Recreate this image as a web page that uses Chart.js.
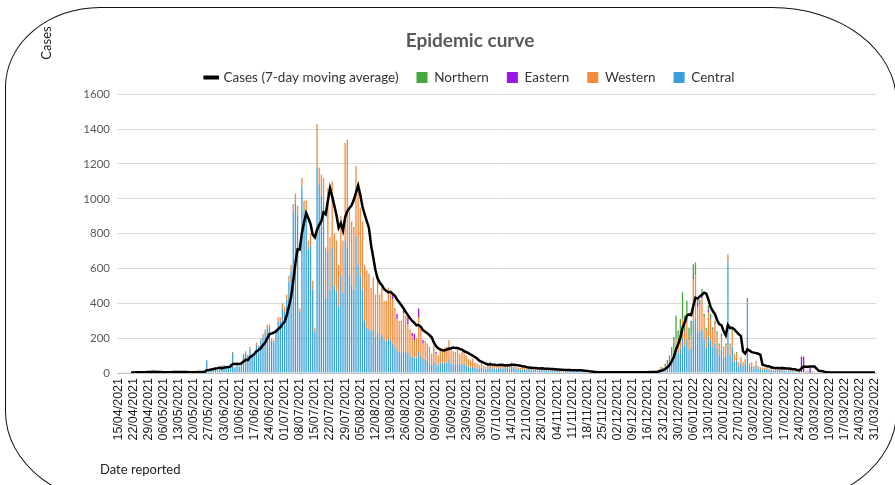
<!DOCTYPE html>
<html>
<head>
<meta charset="utf-8">
<script src="https://cdn.jsdelivr.net/npm/chart.js@4.4.1/dist/chart.umd.min.js"></script>
<style>
  html, body { margin: 0; padding: 0; background: #fff; overflow: hidden; }
  #wrap { position: relative; width: 895px; height: 485px; overflow: hidden; }
  #wrap canvas { position: absolute; left: 0; top: 0; }
  #frame { position: absolute; left: 5px; top: 7px; width: 892px; height: 500px; box-sizing: border-box;
           border: 1.5px solid #111; border-radius: 95px 125px 125px 125px / 80px 95px 95px 95px; pointer-events: none; }
</style>
</head>
<body>
<div id="wrap">
  <canvas id="myChart" width="895" height="485"></canvas>
  <div id="frame"></div>
</div>
<script>
// daily cases by region, 15/04/2021 .. 31/03/2022 (one row ~ one week)
const central = [
  1,3,2,4,2,3,5,
  4,6,3,5,7,4,
  8,11,6,5,7,4,3,
  4,3,5,6,8,7,9,
  6,4,5,3,4,5,6,
  5,7,4,6,5,8,9,
  72,15,19,24,28,21,26,
  42,45,29,33,52,115,32,
  43,38,56,104,118,99,
  140,94,103,162,148,186,208,
  232,255,262,186,176,234,296,
  298,372,352,420,525,582,920,
  975,905,350,1070,930,935,710,
  730,480,235,1180,1080,1020,980,
  430,700,480,720,500,470,380,
  560,460,760,720,560,500,480,
  790,620,560,480,300,260,250,
  240,250,210,230,200,220,190,
  180,200,190,170,150,130,
  120,115,130,120,115,95,90,
  90,85,120,100,80,75,70,
  60,45,65,50,40,60,55,
  60,60,80,55,50,50,55,
  45,50,55,40,35,30,35,
  30,25,25,30,20,20,25,
  35,25,25,20,30,25,25,
  28,35,25,40,28,22,
  20,18,22,19,16,25,17,
  14,18,15,13,20,17,14,
  13,12,14,11,12,14,10,
  9,10,10,12,8,11,10,
  10,9,7,5,3,2,3,
  2,4,2,3,4,2,
  3,2,4,3,2,4,3,
  4,3,2,4,3,4,2,
  3,4,4,2,5,4,4,
  3,5,6,12,18,16,28,
  34,45,68,95,140,110,140,
  200,160,190,130,145,300,310,
  230,240,250,195,145,210,190,
  150,170,140,100,130,90,100,
  640,100,150,65,70,35,55,
  40,50,400,35,38,25,45,
  25,22,18,18,25,15,
  18,12,15,18,12,15,15,
  9,13,11,7,9,6,6,
  3,4,6,9,2,6,5,
  4,3,3,2,3,2,1,
  2,3,1,2,4,2,1,
  2,1,3,2,1,2,1,
  2,
  2,3,1,2,2,3
];
const western = [
  0,0,0,0,0,0,0,
  0,0,0,0,0,0,
  0,0,0,0,0,0,0,
  0,0,0,0,0,0,0,
  0,0,0,0,0,0,0,
  0,0,0,0,0,0,0,
  3,0,1,1,2,1,2,
  2,3,1,2,3,5,2,
  2,2,4,6,7,6,
  10,6,7,13,12,14,17,
  18,20,18,14,14,16,24,
  22,28,28,30,35,38,50,
  55,55,20,50,60,55,50,
  70,50,25,250,100,120,140,
  290,360,300,380,300,290,240,
  340,300,560,620,370,370,360,
  400,420,390,390,320,330,320,
  250,300,240,300,250,270,225,
  235,290,280,255,225,180,
  180,185,215,210,165,155,120,
  100,115,200,160,90,110,100,
  90,65,95,60,60,80,75,
  85,90,110,85,75,70,80,
  65,70,75,60,45,40,50,
  30,30,20,30,20,15,25,
  30,20,15,15,20,20,15,
  17,20,15,20,17,13,
  12,10,13,11,9,13,10,
  8,10,9,7,10,9,7,
  7,6,8,6,7,7,6,
  5,6,5,6,4,6,5,
  6,5,3,3,2,1,1,
  1,1,0,1,2,1,
  1,1,1,1,0,2,1,
  1,1,1,2,1,1,1,
  1,2,1,1,2,1,2,
  1,2,2,4,8,7,12,
  15,20,30,40,60,50,65,
  110,75,100,60,75,240,250,
  150,156,180,127,99,140,120,
  95,110,85,60,80,50,60,
  35,60,90,40,45,22,30,
  22,27,3,17,20,13,22,
  13,11,10,10,13,8,
  10,7,8,10,7,8,10,
  5,8,6,4,5,3,3,
  1,1,3,5,0,3,2,
  2,2,1,1,1,1,1,
  1,1,1,1,1,1,1,
  1,1,1,1,1,1,1,
  1,
  1,1,1,0,1,1
];
const eastern = [
  0,0,0,0,0,0,0,
  0,0,0,0,0,0,
  0,0,0,0,0,0,0,
  0,0,0,0,0,0,0,
  0,0,0,0,0,0,0,
  0,0,0,0,0,0,0,
  0,0,0,0,0,0,0,
  0,0,0,0,0,0,0,
  0,0,0,0,0,0,
  0,0,0,0,0,0,0,
  0,0,0,0,0,0,0,
  0,0,0,0,0,0,0,
  0,0,0,0,0,0,0,
  0,0,0,0,0,0,0,
  0,0,0,0,0,0,0,
  0,0,0,0,0,0,0,
  0,0,0,0,0,0,0,
  0,0,0,0,0,0,0,
  0,0,0,25,0,30,
  0,0,15,0,40,0,20,
  35,0,50,0,20,0,0,
  0,0,0,10,0,0,0,
  0,0,0,0,0,0,0,
  0,0,0,0,0,0,0,
  0,0,0,0,0,0,0,
  0,0,0,0,0,0,0,
  0,0,0,0,0,0,
  0,0,0,0,0,0,0,
  0,0,0,0,0,0,0,
  0,0,0,0,0,0,0,
  0,0,0,0,0,0,0,
  0,0,0,0,0,0,0,
  0,0,0,0,0,0,
  0,0,0,0,0,0,0,
  0,0,0,0,0,0,0,
  0,0,0,0,0,0,0,
  0,0,0,0,0,0,0,
  0,0,0,0,0,0,0,
  3,3,5,2,4,5,4,
  25,4,30,3,2,12,4,
  3,5,2,0,5,0,0,
  0,0,0,0,0,0,0,
  0,0,2,0,0,0,0,
  0,0,0,0,0,0,
  0,0,0,0,0,17,0,
  0,0,0,0,0,0,0,
  90,89,0,0,28,0,0,
  0,0,0,0,0,0,0,
  0,0,0,0,0,0,0,
  0,0,0,0,0,0,0,
  0,
  0,0,0,0,0,0
];
const northern = [
  0,0,0,0,0,0,0,
  0,0,0,0,0,0,
  0,0,0,0,0,0,0,
  0,0,0,0,0,0,0,
  0,0,0,0,0,0,0,
  0,0,0,0,0,0,0,
  0,0,0,0,0,0,0,
  0,0,0,0,0,0,0,
  0,0,0,0,0,0,
  0,0,0,0,0,0,0,
  0,0,0,0,0,0,0,
  0,0,0,0,0,0,0,
  0,0,0,0,0,0,0,
  0,0,0,0,0,0,0,
  0,0,0,0,0,0,0,
  0,0,0,0,0,0,0,
  0,0,0,0,0,0,0,
  0,0,0,0,0,0,0,
  0,0,0,0,0,0,
  0,0,0,0,0,0,0,
  0,0,0,0,0,0,0,
  0,0,0,0,0,0,0,
  0,0,0,0,0,0,0,
  0,0,0,0,0,0,0,
  0,0,0,0,0,0,0,
  0,0,0,0,0,0,0,
  0,0,0,0,0,0,
  0,0,0,0,0,0,0,
  0,0,0,0,0,0,0,
  0,0,0,0,0,0,0,
  0,0,0,0,0,0,0,
  0,0,0,0,0,0,0,
  0,0,0,0,0,0,
  0,0,0,0,0,0,0,
  0,0,0,0,0,0,0,
  0,0,0,0,0,0,0,
  1,1,2,4,8,7,13,
  26,36,51,71,130,84,105,
  150,92,120,68,76,80,70,
  20,20,22,15,14,25,25,
  15,15,13,10,10,10,10,
  5,10,10,5,5,3,5,
  3,3,25,3,2,2,3,
  2,2,2,2,2,2,
  2,1,2,2,1,0,3,
  1,1,1,1,1,1,1,
  1,1,1,1,0,1,1,
  0,0,0,0,0,0,0,
  0,0,0,0,0,0,0,
  0,0,0,0,0,0,0,
  0,
  0,0,0,0,0,0
];

const tickLabels = [
  '15/04/2021','22/04/2021','29/04/2021','06/05/2021','13/05/2021','20/05/2021','27/05/2021',
  '03/06/2021','10/06/2021','17/06/2021','24/06/2021','01/07/2021','08/07/2021','15/07/2021',
  '22/07/2021','29/07/2021','05/08/2021','12/08/2021','19/08/2021','26/08/2021','02/09/2021',
  '09/09/2021','16/09/2021','23/09/2021','30/09/2021','07/10/2021','14/10/2021','21/10/2021',
  '28/10/2021','04/11/2021','11/11/2021','18/11/2021','25/11/2021','02/12/2021','09/12/2021',
  '16/12/2021','23/12/2021','30/12/2021','06/01/2022','13/01/2022','20/01/2022','27/01/2022',
  '03/02/2022','10/02/2022','17/02/2022','24/02/2022','03/03/2022','10/03/2022','17/03/2022',
  '24/03/2022','31/03/2022'
];

// one category per reported day
const days = [];
const d0 = new Date(2021, 3, 15);
for (let i = 0; i < central.length; i++) {
  const d = new Date(d0.getFullYear(), d0.getMonth(), d0.getDate() + i);
  days.push(String(d.getDate()).padStart(2, '0') + '/' + String(d.getMonth() + 1).padStart(2, '0') + '/' + d.getFullYear());
}

// 7-day moving average of all regions
const totals = days.map((_, i) => central[i] + western[i] + eastern[i] + northern[i]);
const movingAvg = totals.map((_, i) => {
  if (i < 6) return null;
  let s = 0;
  for (let k = i - 6; k <= i; k++) s += totals[k];
  return s / 7;
});

const sideLabels = {
  id: 'sideLabels',
  afterDraw(chart) {
    const ctx = chart.ctx;
    ctx.save();
    ctx.fillStyle = '#222';
    ctx.font = '13px Lato';
    ctx.textBaseline = 'middle';
    ctx.fillText('Date reported', 100, 470);
    ctx.translate(47, 43);
    ctx.rotate(-Math.PI / 2);
    ctx.textAlign = 'center';
    ctx.fillText('Cases', 0, 0);
    ctx.restore();
  }
};

const barStyle = { stack: 'cases', pointStyle: 'rect', borderWidth: 0, barPercentage: 0.6, categoryPercentage: 1, order: 1 };

new Chart(document.getElementById('myChart'), {
  type: 'bar',
  data: {
    labels: days,
    datasets: [
      { label: 'Central', data: central, backgroundColor: '#3a9fd8', ...barStyle },
      { label: 'Western', data: western, backgroundColor: '#f5893c', ...barStyle },
      { label: 'Eastern', data: eastern, backgroundColor: '#9b17e6', ...barStyle },
      { label: 'Northern', data: northern, backgroundColor: '#44a83c', ...barStyle },
      {
        type: 'line', label: 'Cases (7-day moving average)', data: movingAvg,
        borderColor: '#000', backgroundColor: '#000', borderWidth: 2.5,
        pointRadius: 0, pointStyle: 'line', pointBorderColor: '#000', pointBorderWidth: 4,
        tension: 0, order: 0
      }
    ]
  },
  options: {
    responsive: false,
    animation: false,
    devicePixelRatio: 1,
    layout: { padding: { left: 60, right: 15, top: 18, bottom: 0 } },
    plugins: {
      title: {
        display: true, text: 'Epidemic curve', color: '#595959',
        font: { family: 'Lato', size: 19, weight: 'bold' },
        padding: { top: 11, bottom: 1 }
      },
      legend: {
        labels: {
          usePointStyle: true, boxWidth: 11, boxHeight: 11, padding: 18,
          color: '#333', font: { family: 'Lato', size: 13.5 },
          // line first, then Northern, Eastern, Western, Central
          sort: (a, b) => b.datasetIndex - a.datasetIndex
        }
      },
      tooltip: { enabled: false }
    },
    scales: {
      x: {
        stacked: true,
        grid: { display: false, drawTicks: false },
        border: { display: true, color: '#bfbfbf' },
        afterFit(scale) { scale.height = 112; },
        ticks: {
          autoSkip: false, maxRotation: 90, minRotation: 90, padding: 5,
          color: '#1a1a1a', font: { family: 'Liberation Sans', size: 12.5 },
          callback(value, index) {
            const lab = days[index];
            return tickLabels.includes(lab) ? lab : '';
          }
        }
      },
      y: {
        stacked: true, min: 0, max: 1600,
        grid: { color: '#d9d9d9', drawTicks: false },
        border: { display: false },
        afterFit(scale) { scale.width = 57; },
        ticks: {
          stepSize: 200, padding: 7, color: '#595959', font: { family: 'Lato', size: 11.5 },
          callback: (v) => String(v)
        }
      }
    }
  },
  plugins: [sideLabels]
});
</script>
</body>
</html>
